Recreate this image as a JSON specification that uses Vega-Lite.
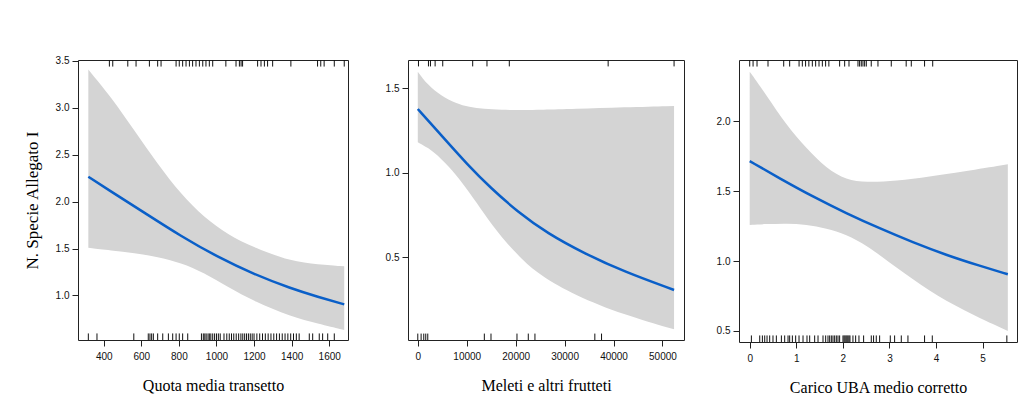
{
  "$schema": "https://vega.github.io/schema/vega-lite/v6.json",
  "background": "white",
  "padding": {"left": 22, "top": 55, "right": 5, "bottom": 5},
  "spacing": 27,
  "config": {
    "view": {"stroke": "#222", "strokeWidth": 1},
    "axis": {
      "domain": false, "grid": false, "tickColor": "#222", "tickSize": 6, "tickWidth": 1,
      "labelFont": "Liberation Sans", "labelFontSize": 10, "labelColor": "#111",
      "titleFont": "Liberation Serif", "titleFontSize": 16, "titleFontWeight": "normal", "titleColor": "#000"
    },
    "axisX": {"labelPadding": 5, "titlePadding": 16},
    "axisY": {"labelPadding": 3, "titlePadding": 14}
  },
  "datasets": {
    "p1_fit": [
      {"x": 318, "y": 2.265}, {"x": 430, "y": 2.12}, {"x": 616, "y": 1.883}, {"x": 811, "y": 1.632},
      {"x": 1006, "y": 1.41}, {"x": 1201, "y": 1.225}, {"x": 1396, "y": 1.075}, {"x": 1540, "y": 0.985}, {"x": 1680, "y": 0.905}
    ],
    "p1_band": [
      {"x": 318, "lo": 1.508, "hi": 3.408}, {"x": 439, "lo": 1.48, "hi": 3.116}, {"x": 563, "lo": 1.454, "hi": 2.758},
      {"x": 687, "lo": 1.41, "hi": 2.40}, {"x": 811, "lo": 1.347, "hi": 2.079}, {"x": 935, "lo": 1.24, "hi": 1.83},
      {"x": 1060, "lo": 1.09, "hi": 1.65}, {"x": 1201, "lo": 0.936, "hi": 1.508},
      {"x": 1396, "lo": 0.775, "hi": 1.364}, {"x": 1540, "lo": 0.70, "hi": 1.33}, {"x": 1680, "lo": 0.632, "hi": 1.31}
    ],
    "p1_rug": [
      {"x": 318, "side": "bottom"}, {"x": 364, "side": "bottom"}, {"x": 560, "side": "bottom"}, {"x": 637, "side": "bottom"},
      {"x": 646, "side": "bottom"}, {"x": 655, "side": "bottom"}, {"x": 664, "side": "bottom"}, {"x": 687, "side": "bottom"},
      {"x": 714, "side": "bottom"}, {"x": 744, "side": "bottom"}, {"x": 767, "side": "bottom"}, {"x": 785, "side": "bottom"},
      {"x": 802, "side": "bottom"}, {"x": 820, "side": "bottom"}, {"x": 847, "side": "bottom"}, {"x": 920, "side": "bottom"},
      {"x": 930, "side": "bottom"}, {"x": 938, "side": "bottom"}, {"x": 945, "side": "bottom"}, {"x": 955, "side": "bottom"},
      {"x": 962, "side": "bottom"}, {"x": 970, "side": "bottom"}, {"x": 980, "side": "bottom"}, {"x": 990, "side": "bottom"},
      {"x": 1000, "side": "bottom"}, {"x": 1010, "side": "bottom"}, {"x": 1020, "side": "bottom"}, {"x": 1040, "side": "bottom"},
      {"x": 1055, "side": "bottom"}, {"x": 1068, "side": "bottom"}, {"x": 1080, "side": "bottom"}, {"x": 1092, "side": "bottom"},
      {"x": 1105, "side": "bottom"}, {"x": 1118, "side": "bottom"}, {"x": 1130, "side": "bottom"}, {"x": 1140, "side": "bottom"},
      {"x": 1150, "side": "bottom"}, {"x": 1160, "side": "bottom"}, {"x": 1170, "side": "bottom"}, {"x": 1180, "side": "bottom"},
      {"x": 1190, "side": "bottom"}, {"x": 1200, "side": "bottom"}, {"x": 1215, "side": "bottom"}, {"x": 1230, "side": "bottom"},
      {"x": 1245, "side": "bottom"}, {"x": 1260, "side": "bottom"}, {"x": 1275, "side": "bottom"}, {"x": 1290, "side": "bottom"},
      {"x": 1305, "side": "bottom"}, {"x": 1320, "side": "bottom"}, {"x": 1335, "side": "bottom"}, {"x": 1350, "side": "bottom"},
      {"x": 1365, "side": "bottom"}, {"x": 1380, "side": "bottom"}, {"x": 1395, "side": "bottom"}, {"x": 1410, "side": "bottom"},
      {"x": 1425, "side": "bottom"}, {"x": 1440, "side": "bottom"}, {"x": 1494, "side": "bottom"}, {"x": 1512, "side": "bottom"},
      {"x": 1547, "side": "bottom"}, {"x": 1565, "side": "bottom"}, {"x": 1592, "side": "bottom"}, {"x": 1627, "side": "bottom"},
      {"x": 430, "side": "top"}, {"x": 448, "side": "top"}, {"x": 528, "side": "top"}, {"x": 572, "side": "top"},
      {"x": 643, "side": "top"}, {"x": 687, "side": "top"}, {"x": 705, "side": "top"}, {"x": 785, "side": "top"},
      {"x": 802, "side": "top"}, {"x": 820, "side": "top"}, {"x": 838, "side": "top"}, {"x": 856, "side": "top"},
      {"x": 873, "side": "top"}, {"x": 891, "side": "top"}, {"x": 909, "side": "top"}, {"x": 927, "side": "top"},
      {"x": 944, "side": "top"}, {"x": 962, "side": "top"}, {"x": 980, "side": "top"}, {"x": 1050, "side": "top"},
      {"x": 1104, "side": "top"}, {"x": 1122, "side": "top"}, {"x": 1131, "side": "top"}, {"x": 1139, "side": "top"},
      {"x": 1219, "side": "top"}, {"x": 1237, "side": "top"}, {"x": 1255, "side": "top"}, {"x": 1272, "side": "top"},
      {"x": 1299, "side": "top"}, {"x": 1396, "side": "top"}, {"x": 1538, "side": "top"}, {"x": 1555, "side": "top"},
      {"x": 1573, "side": "top"}, {"x": 1627, "side": "top"}, {"x": 1680, "side": "top"}
    ],
    "p2_fit": [
      {"x": 0, "y": 1.377}, {"x": 4755, "y": 1.223}, {"x": 10200, "y": 1.046}, {"x": 14960, "y": 0.908},
      {"x": 20400, "y": 0.769}, {"x": 26500, "y": 0.641}, {"x": 34000, "y": 0.523}, {"x": 42170, "y": 0.414}, {"x": 52370, "y": 0.306}
    ],
    "p2_band": [
      {"x": 0, "lo": 1.18, "hi": 1.598}, {"x": 2040, "lo": 1.15, "hi": 1.519}, {"x": 4755, "lo": 1.085, "hi": 1.455},
      {"x": 7800, "lo": 0.99, "hi": 1.41}, {"x": 10500, "lo": 0.885, "hi": 1.388}, {"x": 13500, "lo": 0.76, "hi": 1.377},
      {"x": 17000, "lo": 0.62, "hi": 1.371}, {"x": 21500, "lo": 0.48, "hi": 1.371}, {"x": 25170, "lo": 0.39, "hi": 1.372},
      {"x": 31960, "lo": 0.276, "hi": 1.377}, {"x": 42170, "lo": 0.158, "hi": 1.387}, {"x": 52370, "lo": 0.073, "hi": 1.395}
    ],
    "p2_rug": [
      {"x": 0, "side": "bottom"}, {"x": 680, "side": "bottom"}, {"x": 1220, "side": "bottom"}, {"x": 1630, "side": "bottom"},
      {"x": 2040, "side": "bottom"}, {"x": 13600, "side": "bottom"}, {"x": 14960, "side": "bottom"}, {"x": 20270, "side": "bottom"},
      {"x": 22580, "side": "bottom"}, {"x": 23940, "side": "bottom"}, {"x": 36180, "side": "bottom"}, {"x": 37550, "side": "bottom"},
      {"x": 140, "side": "top"}, {"x": 2180, "side": "top"}, {"x": 2590, "side": "top"}, {"x": 3540, "side": "top"},
      {"x": 5100, "side": "top"}, {"x": 11220, "side": "top"}, {"x": 14140, "side": "top"}, {"x": 18700, "side": "top"},
      {"x": 38900, "side": "top"}, {"x": 52370, "side": "top"}
    ],
    "p3_fit": [
      {"x": 0, "y": 1.716}, {"x": 0.644, "y": 1.592}, {"x": 1.359, "y": 1.461}, {"x": 2.075, "y": 1.342},
      {"x": 2.79, "y": 1.234}, {"x": 3.504, "y": 1.134}, {"x": 4.221, "y": 1.043}, {"x": 4.936, "y": 0.966}, {"x": 5.543, "y": 0.905}
    ],
    "p3_band": [
      {"x": 0, "lo": 1.258, "hi": 2.356}, {"x": 0.358, "lo": 1.265, "hi": 2.189}, {"x": 0.788, "lo": 1.27, "hi": 1.974},
      {"x": 1.217, "lo": 1.262, "hi": 1.807}, {"x": 1.646, "lo": 1.235, "hi": 1.664}, {"x": 2.075, "lo": 1.19, "hi": 1.58},
      {"x": 2.504, "lo": 1.115, "hi": 1.564}, {"x": 3.148, "lo": 0.953, "hi": 1.573}, {"x": 3.863, "lo": 0.783, "hi": 1.604},
      {"x": 4.578, "lo": 0.649, "hi": 1.64}, {"x": 5.543, "lo": 0.499, "hi": 1.693}
    ],
    "p3_rug": [
      {"x": 0.036, "side": "bottom"}, {"x": 0.215, "side": "bottom"}, {"x": 0.272, "side": "bottom"}, {"x": 0.322, "side": "bottom"},
      {"x": 0.372, "side": "bottom"}, {"x": 0.429, "side": "bottom"}, {"x": 0.5, "side": "bottom"}, {"x": 0.572, "side": "bottom"},
      {"x": 0.68, "side": "bottom"}, {"x": 0.751, "side": "bottom"}, {"x": 0.823, "side": "bottom"}, {"x": 0.858, "side": "bottom"},
      {"x": 0.916, "side": "bottom"}, {"x": 0.987, "side": "bottom"}, {"x": 1.059, "side": "bottom"}, {"x": 1.145, "side": "bottom"},
      {"x": 1.23, "side": "bottom"}, {"x": 1.288, "side": "bottom"}, {"x": 1.395, "side": "bottom"}, {"x": 1.467, "side": "bottom"},
      {"x": 1.574, "side": "bottom"}, {"x": 1.631, "side": "bottom"}, {"x": 1.681, "side": "bottom"}, {"x": 1.717, "side": "bottom"},
      {"x": 1.753, "side": "bottom"}, {"x": 1.788, "side": "bottom"}, {"x": 1.824, "side": "bottom"}, {"x": 1.86, "side": "bottom"},
      {"x": 1.896, "side": "bottom"}, {"x": 1.931, "side": "bottom"}, {"x": 2.003, "side": "bottom"}, {"x": 2.025, "side": "bottom"},
      {"x": 2.046, "side": "bottom"}, {"x": 2.068, "side": "bottom"}, {"x": 2.089, "side": "bottom"}, {"x": 2.11, "side": "bottom"},
      {"x": 2.132, "side": "bottom"}, {"x": 2.153, "side": "bottom"}, {"x": 2.217, "side": "bottom"}, {"x": 2.275, "side": "bottom"},
      {"x": 2.346, "side": "bottom"}, {"x": 2.446, "side": "bottom"}, {"x": 2.611, "side": "bottom"}, {"x": 2.66, "side": "bottom"},
      {"x": 2.718, "side": "bottom"}, {"x": 2.79, "side": "bottom"}, {"x": 3.019, "side": "bottom"}, {"x": 3.112, "side": "bottom"},
      {"x": 3.255, "side": "bottom"}, {"x": 3.398, "side": "bottom"}, {"x": 3.755, "side": "bottom"}, {"x": 3.921, "side": "bottom"},
      {"x": 5.522, "side": "bottom"},
      {"x": 0.0, "side": "top"}, {"x": 0.072, "side": "top"}, {"x": 0.157, "side": "top"}, {"x": 0.393, "side": "top"},
      {"x": 0.73, "side": "top"}, {"x": 0.858, "side": "top"}, {"x": 1.06, "side": "top"}, {"x": 1.13, "side": "top"},
      {"x": 1.2, "side": "top"}, {"x": 1.27, "side": "top"}, {"x": 1.345, "side": "top"}, {"x": 1.416, "side": "top"},
      {"x": 1.488, "side": "top"}, {"x": 1.56, "side": "top"}, {"x": 1.63, "side": "top"}, {"x": 1.7, "side": "top"},
      {"x": 1.931, "side": "top"}, {"x": 2.039, "side": "top"}, {"x": 2.132, "side": "top"}, {"x": 2.325, "side": "top"},
      {"x": 2.36, "side": "top"}, {"x": 2.396, "side": "top"}, {"x": 2.432, "side": "top"}, {"x": 2.468, "side": "top"},
      {"x": 2.504, "side": "top"}, {"x": 2.61, "side": "top"}, {"x": 2.754, "side": "top"}, {"x": 3.04, "side": "top"},
      {"x": 3.36, "side": "top"}, {"x": 3.47, "side": "top"}, {"x": 3.755, "side": "top"}, {"x": 3.93, "side": "top"}
    ]
  },
  "hconcat": [
    {
      "width": 270, "height": 280,
      "layer": [
        {
          "data": {"name": "p1_band"},
          "mark": {"type": "area", "color": "#d4d4d4", "opacity": 1, "interpolate": "basis"},
          "encoding": {
            "x": {"field": "x", "type": "quantitative", "scale": {"domain": [263, 1700], "nice": false, "zero": false},
                  "axis": {"title": "Quota media transetto", "values": [400, 600, 800, 1000, 1200, 1400, 1600], "format": "d"}},
            "y": {"field": "lo", "type": "quantitative", "scale": {"domain": [0.525, 3.51], "nice": false, "zero": false},
                  "axis": {"title": "N. Specie Allegato I", "titleFontSize": 17, "values": [1.0, 1.5, 2.0, 2.5, 3.0, 3.5], "format": ".1f"}},
            "y2": {"field": "hi"}
          }
        },
        {
          "data": {"name": "p1_fit"},
          "mark": {"type": "line", "color": "#0a5fc8", "strokeWidth": 2.5, "interpolate": "basis"},
          "encoding": {"x": {"field": "x", "type": "quantitative"}, "y": {"field": "y", "type": "quantitative"}}
        },
        {
          "data": {"name": "p1_rug"},
          "transform": [{"filter": "datum.side === 'bottom'"}],
          "mark": {"type": "rule", "color": "#111", "strokeWidth": 1},
          "encoding": {"x": {"field": "x", "type": "quantitative"}, "y": {"datum": 0.525}, "y2": {"datum": 0.595}}
        },
        {
          "data": {"name": "p1_rug"},
          "transform": [{"filter": "datum.side === 'top'"}],
          "mark": {"type": "rule", "color": "#111", "strokeWidth": 1},
          "encoding": {"x": {"field": "x", "type": "quantitative"}, "y": {"datum": 3.51}, "y2": {"datum": 3.44}}
        }
      ]
    },
    {
      "width": 276, "height": 280,
      "layer": [
        {
          "data": {"name": "p2_band"},
          "mark": {"type": "area", "color": "#d4d4d4", "opacity": 1, "interpolate": "basis"},
          "encoding": {
            "x": {"field": "x", "type": "quantitative", "scale": {"domain": [-2000, 54400], "nice": false, "zero": false},
                  "axis": {"title": "Meleti e altri frutteti", "values": [0, 10000, 20000, 30000, 40000, 50000], "format": "d"}},
            "y": {"field": "lo", "type": "quantitative", "scale": {"domain": [0.01, 1.667], "nice": false, "zero": false},
                  "axis": {"title": null, "values": [0.5, 1.0, 1.5], "format": ".1f", "minExtent": 30}},
            "y2": {"field": "hi"}
          }
        },
        {
          "data": {"name": "p2_fit"},
          "mark": {"type": "line", "color": "#0a5fc8", "strokeWidth": 2.5, "interpolate": "basis"},
          "encoding": {"x": {"field": "x", "type": "quantitative"}, "y": {"field": "y", "type": "quantitative"}}
        },
        {
          "data": {"name": "p2_rug"},
          "transform": [{"filter": "datum.side === 'bottom'"}],
          "mark": {"type": "rule", "color": "#111", "strokeWidth": 1},
          "encoding": {"x": {"field": "x", "type": "quantitative"}, "y": {"datum": 0.01}, "y2": {"datum": 0.048}}
        },
        {
          "data": {"name": "p2_rug"},
          "transform": [{"filter": "datum.side === 'top'"}],
          "mark": {"type": "rule", "color": "#111", "strokeWidth": 1},
          "encoding": {"x": {"field": "x", "type": "quantitative"}, "y": {"datum": 1.667}, "y2": {"datum": 1.629}}
        }
      ]
    },
    {
      "width": 278, "height": 282,
      "layer": [
        {
          "data": {"name": "p3_band"},
          "mark": {"type": "area", "color": "#d4d4d4", "opacity": 1, "interpolate": "basis"},
          "encoding": {
            "x": {"field": "x", "type": "quantitative", "scale": {"domain": [-0.23, 5.74], "nice": false, "zero": false},
                  "axis": {"title": "Carico UBA medio corretto", "values": [0, 1, 2, 3, 4, 5], "format": "d"}},
            "y": {"field": "lo", "type": "quantitative", "scale": {"domain": [0.42, 2.44], "nice": false, "zero": false},
                  "axis": {"title": null, "values": [0.5, 1.0, 1.5, 2.0], "format": ".1f", "minExtent": 26}},
            "y2": {"field": "hi"}
          }
        },
        {
          "data": {"name": "p3_fit"},
          "mark": {"type": "line", "color": "#0a5fc8", "strokeWidth": 2.5, "interpolate": "basis"},
          "encoding": {"x": {"field": "x", "type": "quantitative"}, "y": {"field": "y", "type": "quantitative"}}
        },
        {
          "data": {"name": "p3_rug"},
          "transform": [{"filter": "datum.side === 'bottom'"}],
          "mark": {"type": "rule", "color": "#111", "strokeWidth": 1},
          "encoding": {"x": {"field": "x", "type": "quantitative"}, "y": {"datum": 0.42}, "y2": {"datum": 0.467}}
        },
        {
          "data": {"name": "p3_rug"},
          "transform": [{"filter": "datum.side === 'top'"}],
          "mark": {"type": "rule", "color": "#111", "strokeWidth": 1},
          "encoding": {"x": {"field": "x", "type": "quantitative"}, "y": {"datum": 2.44}, "y2": {"datum": 2.393}}
        }
      ]
    }
  ]
}
